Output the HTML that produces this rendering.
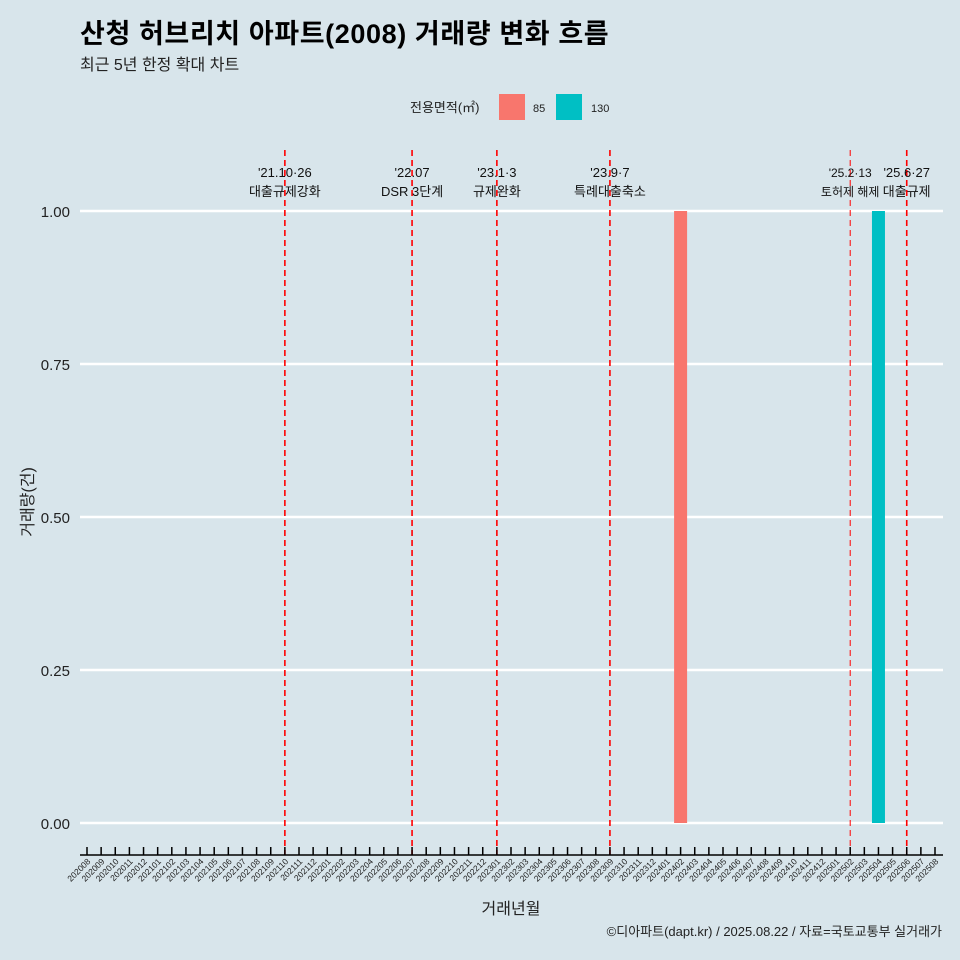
<!DOCTYPE html>
<html><head><meta charset="utf-8"><style>
html,body{margin:0;background:#d8e5eb;width:960px;height:960px;overflow:hidden;}
svg{display:block;}
svg text{font-family:"Liberation Sans","Noto Sans CJK KR",sans-serif;}
</style></head><body>
<svg id="chart" width="960" height="960" xmlns="http://www.w3.org/2000/svg">
<rect width="960" height="960" fill="#d8e5eb"/>
<text x="80" y="43" font-size="27" font-weight="bold" letter-spacing="0.6" fill="#000">산청 허브리치 아파트(2008) 거래량 변화 흐름</text>
<text x="80" y="70" font-size="16" fill="#222">최근 5년 한정 확대 차트</text>
<g>
<text x="410" y="112" font-size="13" fill="#222">전용면적(㎡)</text>
<rect x="499" y="94" width="26" height="26" fill="#f8766d"/>
<text x="533" y="112" font-size="11" fill="#222">85</text>
<rect x="556" y="94" width="26" height="26" fill="#00bfc4"/>
<text x="591" y="112" font-size="11" fill="#222">130</text>
</g>
<g id="grid"></g><g id="bars"></g><g id="events"></g><g id="axes"></g>
<text transform="translate(33,502) rotate(-90)" text-anchor="middle" font-size="16" fill="#222">거래량(건)</text>
<text x="511" y="914" text-anchor="middle" font-size="16" fill="#222">거래년월</text>
<text x="942" y="936" text-anchor="end" font-size="13" fill="#222">©디아파트(dapt.kr) / 2025.08.22 / 자료=국토교통부 실거래가</text>
</svg>
<script>
const categories=[];for(let y=2020,m=8;y<2025||(y===2025&&m<=8);){categories.push(y+String(m).padStart(2,'0'));m++;if(m>12){m=1;y++;}}
const barMonths=["202402","202504"];
const barValues=[1,1];
const barSizes=["85","130"];
const yTicks=[0,0.25,0.5,0.75,1.0];
const yTickLabels=["0.00","0.25","0.50","0.75","1.00"];
const eventMonths=["202110","202207","202301","202309","202502","202506"];
const eventDates=["'21.10·26","'22.07","'23.1·3","'23.9·7","'25.2·13","'25.6·27"];
const eventLabels=["대출규제강화","DSR 3단계","규제완화","특례대출축소","토허제 해제","대출규제"];
const NS="http://www.w3.org/2000/svg";
const x=c=>87+categories.indexOf(c)*(935-87)/(categories.length-1);
const y=v=>823-v*612;
const colors={"85":"#f8766d","130":"#00bfc4"};
function mk(t,a,p){const e=document.createElementNS(NS,t);for(const k in a)e.setAttribute(k,a[k]);p.appendChild(e);return e;}
const grid=document.getElementById('grid'),bars=document.getElementById('bars'),ev=document.getElementById('events'),ax=document.getElementById('axes');
yTicks.forEach((v,i)=>{
 const l=mk('line',{x1:80,x2:943,y1:y(v),y2:y(v),stroke:'#fff','stroke-width':2.4},grid);
 
 
 const t=mk('text',{x:70,y:y(v)+6,'text-anchor':'end','font-size':15,fill:'#222'},ax);
 t.textContent=yTickLabels[i];
 
 
});
barMonths.forEach((m,i)=>{
 const r=mk('rect',{x:x(m)-6.5,y:y(barValues[i]),width:13,height:y(0)-y(barValues[i]),fill:colors[barSizes[i]]},bars);
 
 
});
eventMonths.forEach((m,i)=>{
 const thin=m==="202502";
 const l=mk('line',{x1:x(m),x2:x(m),y1:150,y2:855,stroke:'#ff0000','stroke-width':thin?1:1.6,'stroke-dasharray':'6 4'},ev);
 
 
 const fs=thin?12:13;
 const t1=mk('text',{x:x(m),y:177,'text-anchor':'middle','font-size':fs,fill:'#111'},ev);
 t1.textContent=eventDates[i];
 
 
 const t2=mk('text',{x:x(m),y:196,'text-anchor':'middle','font-size':fs,fill:'#111'},ev);
 t2.textContent=eventLabels[i];
 
 
});
const axl=mk('line',{x1:80,x2:943,y1:855,y2:855,stroke:'#000','stroke-width':1.5},ax);


categories.forEach(c=>{
 const tk=mk('line',{x1:x(c),x2:x(c),y1:847,y2:855,stroke:'#000','stroke-width':1.5},ax);
 
 
 const t=mk('text',{x:x(c)+4,y:862,'text-anchor':'end','font-size':8.5,fill:'#222',transform:`rotate(-45 ${x(c)+4} 862)`},ax);
 t.textContent=c;
 
 
});
</script>
</body></html>
